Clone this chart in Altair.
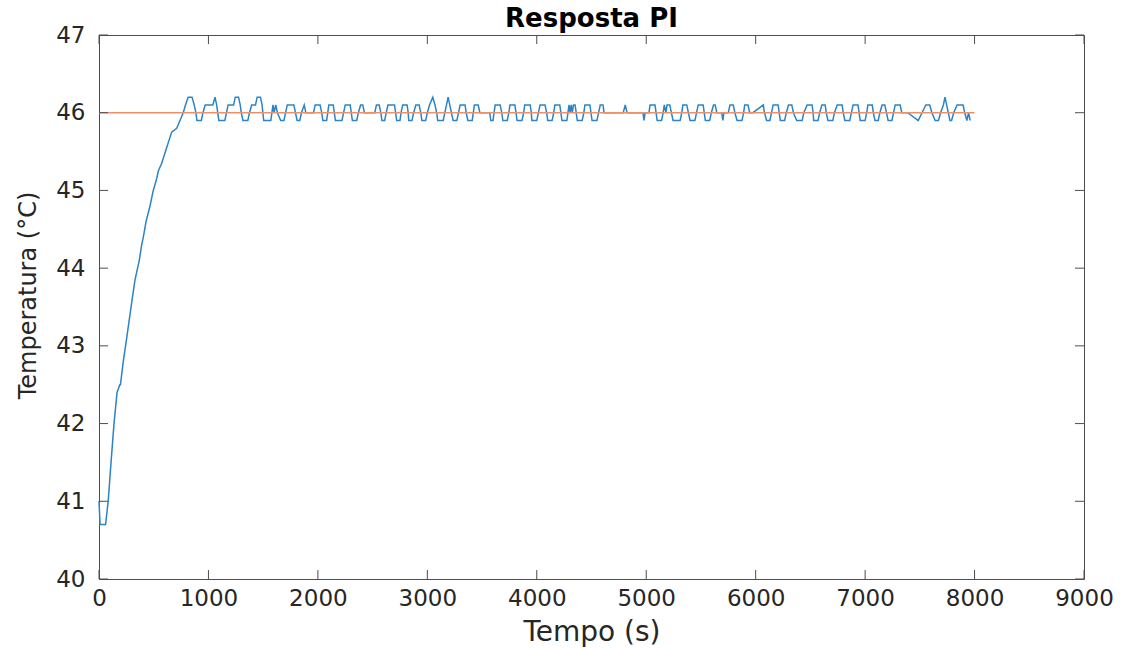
import altair as alt
import pandas as pd

# ---- data ----
time_s = [
    0, 10, 60, 84, 110, 137, 165, 190, 196, 222, 253, 298, 329, 368, 390, 405, 430, 466, 496,
    527, 542, 573, 618, 664, 710, 740, 770,
    790, 815, 850, 870, 885, 895, 935, 950, 970, 1040, 1060, 1075, 1085, 1095, 1150, 1165, 1180,
    1230, 1245, 1275, 1290, 1300, 1315, 1360, 1375, 1395, 1430, 1445, 1475, 1490, 1505, 1570,
    1580, 1590, 1600, 1615, 1630, 1660, 1690, 1705,
    1720, 1780, 1795, 1810, 1835, 1850, 1875, 1890, 1960, 1975, 2020, 2035, 2045, 2080, 2090,
    2100, 2140, 2150, 2160, 2220, 2235, 2250, 2295, 2305, 2315, 2355, 2370, 2390, 2410, 2425,
    2520, 2535, 2560, 2575, 2585, 2610, 2625, 2640, 2700, 2710, 2720, 2750, 2760, 2775, 2815,
    2825, 2830, 2860, 2875, 2895, 2925, 2940, 2950, 2985, 3000, 3020, 3050, 3070, 3085, 3095,
    3145, 3160, 3175, 3190, 3205, 3220, 3235, 3270, 3285, 3300, 3345, 3355, 3370, 3410, 3420,
    3430, 3465, 3480, 3570, 3580, 3600, 3610, 3620, 3665, 3680, 3690, 3730, 3745, 3755, 3800,
    3810, 3820, 3865, 3880, 3890, 3940, 3950, 3955, 4000, 4015, 4030, 4075, 4090, 4100, 4140,
    4155, 4165, 4210, 4220, 4230, 4275, 4285, 4295, 4305, 4315, 4325, 4335, 4350, 4360, 4370,
    4415, 4430, 4440, 4485, 4495, 4505, 4550, 4565, 4580, 4605, 4615, 4790, 4808, 4825, 4970,
    4980, 4990, 5025, 5035, 5080, 5090, 5100, 5140, 5155, 5165, 5180, 5190, 5215, 5230, 5245,
    5310, 5325, 5335, 5370, 5385, 5400, 5445, 5460, 5475, 5520, 5530, 5540, 5580, 5595, 5615,
    5630, 5645, 5690, 5700, 5710, 5750, 5765, 5795, 5810, 5830, 5875, 5890, 5900, 5930, 5945,
    5975, 6070, 6080, 6100, 6130, 6145, 6160, 6205, 6215, 6225, 6265, 6280, 6300, 6330, 6345,
    6375, 6425, 6440, 6470, 6515, 6525, 6530, 6570, 6585, 6605, 6635, 6645, 6660, 6705, 6720,
    6745, 6790, 6800, 6815, 6860, 6875, 6890, 6935, 6945, 6955, 7000, 7015, 7025, 7065, 7075,
    7090, 7120, 7135, 7155, 7180, 7195, 7210, 7245, 7260, 7275, 7320, 7335, 7390, 7485, 7520,
    7555, 7590, 7610, 7640, 7670, 7690, 7715, 7730, 7745, 7760, 7775, 7790, 7810, 7840, 7895,
    7910, 7930, 7945, 7960,
]
temp_c = [
    41.0, 40.7, 40.7, 41.0, 41.5, 42.0, 42.4, 42.5, 42.5, 42.8, 43.1, 43.55, 43.85, 44.1, 44.3,
    44.4, 44.6, 44.8, 45.0, 45.15, 45.25, 45.35, 45.55, 45.75, 45.8, 45.9, 46.0,
    46.1, 46.2, 46.2, 46.1, 46.0, 45.9, 45.9, 46.0, 46.1, 46.1, 46.2, 46.1, 46.0, 45.9, 45.9,
    46.0, 46.1, 46.1, 46.2, 46.2, 46.1, 46.0, 45.9, 45.9, 46.0, 46.1, 46.1, 46.2, 46.2, 46.1,
    45.9, 45.9, 46.0, 46.1, 46.0, 46.1, 46.0, 45.9, 45.9, 46.0,
    46.1, 46.1, 46.0, 45.9, 45.9, 46.0, 46.1, 46.0, 46.0, 46.1, 46.1, 46.0, 45.9, 45.9, 46.0,
    46.1, 46.1, 46.0, 45.9, 45.9, 46.0, 46.1, 46.1, 46.0, 45.9, 45.9, 46.0, 46.1, 46.1, 46.0,
    46.0, 46.1, 46.1, 46.0, 45.9, 45.9, 46.0, 46.1, 46.1, 46.0, 45.9, 45.9, 46.0, 46.1, 46.1,
    46.0, 45.9, 45.9, 46.0, 46.1, 46.1, 46.0, 45.9, 45.9, 46.0, 46.1, 46.2, 46.1, 46.0, 45.9,
    45.9, 46.0, 46.1, 46.2, 46.1, 46.0, 45.9, 45.9, 46.0, 46.1, 46.1, 46.0, 45.9, 45.9, 46.0,
    46.1, 46.1, 46.0, 46.0, 45.9, 45.9, 46.0, 46.1, 46.1, 46.0, 45.9, 45.9, 46.0, 46.1, 46.1,
    46.0, 45.9, 45.9, 46.0, 46.1, 46.1, 46.0, 45.9, 45.9, 46.0, 46.1, 46.1, 46.0, 45.9, 45.9,
    46.0, 46.1, 46.1, 46.0, 45.9, 45.9, 46.0, 46.1, 46.0, 46.1, 46.0, 46.1, 46.1, 46.0, 45.9,
    45.9, 46.0, 46.1, 46.1, 46.0, 45.9, 45.9, 46.0, 46.1, 46.1, 46.0, 46.0, 46.1, 46.0, 46.0,
    45.9, 46.0, 46.0, 46.1, 46.1, 46.0, 45.9, 45.9, 46.0, 46.1, 46.0, 46.1, 46.1, 46.0, 45.9,
    45.9, 46.0, 46.1, 46.1, 46.0, 45.9, 45.9, 46.0, 46.1, 46.1, 46.0, 45.9, 45.9, 46.0, 46.1,
    46.1, 46.0, 46.0, 45.9, 46.0, 46.0, 46.1, 46.1, 46.0, 45.9, 45.9, 46.0, 46.1, 46.1, 46.0,
    46.0, 46.1, 46.0, 45.9, 45.9, 46.0, 46.1, 46.1, 46.0, 45.9, 45.9, 46.0, 46.1, 46.1, 46.0,
    45.9, 45.9, 46.0, 46.1, 46.1, 46.0, 45.9, 45.9, 46.0, 46.1, 46.1, 46.0, 45.9, 45.9, 46.0,
    46.1, 46.1, 46.0, 45.9, 45.9, 46.0, 46.1, 46.1, 46.0, 45.9, 45.9, 46.0, 46.1, 46.1, 46.0,
    45.9, 45.9, 46.0, 46.1, 46.1, 46.0, 45.9, 45.9, 46.0, 46.1, 46.1, 46.0, 46.0, 45.9, 46.0,
    46.1, 46.1, 46.0, 45.9, 45.9, 46.0, 46.1, 46.2, 46.1, 46.0, 45.9, 45.9, 46.0, 46.1, 46.1,
    46.0, 45.9, 46.0, 45.9,
]
setpoint_time = [0, 8000]
setpoint_temp = [46, 46]
x_ticks = [0, 1000, 2000, 3000, 4000, 5000, 6000, 7000, 8000, 9000]
y_ticks = [40, 41, 42, 43, 44, 45, 46, 47]

W, H = 985, 544
FONT = "DejaVu Sans"
FRAME = "#4d4d4d"

resp = pd.DataFrame({"t": time_s, "T": temp_c})
sp = pd.DataFrame({"t": setpoint_time, "T": setpoint_temp})
xt = pd.DataFrame({"t": x_ticks})
yt = pd.DataFrame({"T": y_ticks})

xscale = alt.Scale(domain=[0, 9000], nice=False, zero=False)
yscale = alt.Scale(domain=[40, 47], nice=False, zero=False)

x_axis = alt.Axis(
    values=x_ticks, format="d", grid=False, ticks=False, domain=False, labelFlush=False,
    labelFont=FONT, labelFontSize=23, labelColor="#262626", labelPadding=8,
    title="Tempo (s)", titleFont=FONT, titleFontSize=28, titleFontWeight="normal",
    titleColor="#262626", titleX=W / 2, titleY=53, titleBaseline="middle",
    titleAlign="center",
)
y_axis = alt.Axis(
    values=y_ticks, format="d", grid=False, ticks=False, domain=False, labelFlush=False,
    labelFont=FONT, labelFontSize=23, labelColor="#262626", labelPadding=14,
    title="Temperatura (°C)", titleFont=FONT, titleFontSize=24, titleFontWeight="normal",
    titleColor="#262626", titleX=-71, titleY=260, titleAngle=270,
    titleBaseline="middle", titleAlign="center",
)

blue = alt.Chart(resp).mark_line(color="#2b84c8", strokeWidth=1.5, interpolate="linear").encode(
    x=alt.X("t:Q", scale=xscale, axis=x_axis),
    y=alt.Y("T:Q", scale=yscale, axis=y_axis),
)
orange = alt.Chart(sp).mark_line(color="#EA9170", strokeWidth=1.6).encode(
    x=alt.X("t:Q", scale=xscale),
    y=alt.Y("T:Q", scale=yscale),
)

tick_style = dict(color=FRAME, strokeWidth=1)
bottom_ticks = alt.Chart(xt).mark_rule(**tick_style).encode(
    x=alt.X("t:Q", scale=xscale), y=alt.value(H), y2=alt.value(H - 9))
top_ticks = alt.Chart(xt).mark_rule(**tick_style).encode(
    x=alt.X("t:Q", scale=xscale), y=alt.value(0), y2=alt.value(9))
left_ticks = alt.Chart(yt).mark_rule(**tick_style).encode(
    y=alt.Y("T:Q", scale=yscale), x=alt.value(0), x2=alt.value(9))
right_ticks = alt.Chart(yt).mark_rule(**tick_style).encode(
    y=alt.Y("T:Q", scale=yscale), x=alt.value(W), x2=alt.value(W - 9))

chart = alt.layer(
    blue, orange, bottom_ticks, top_ticks, left_ticks, right_ticks
).properties(
    width=W, height=H,
    title=alt.TitleParams(
        "Resposta PI", font=FONT, fontSize=26, fontWeight="bold", color="#000000",
        anchor="middle", offset=6, baseline="alphabetic", frame="group", dy=35,
    ),
    padding={"left": 99, "top": 35, "right": 43, "bottom": 69},
    autosize=alt.AutoSizeParams(type="none"),
    background="white",
).configure_view(
    stroke=FRAME, strokeWidth=1
)

chart.save("out.html", embed_options={"renderer": "svg", "actions": False})
